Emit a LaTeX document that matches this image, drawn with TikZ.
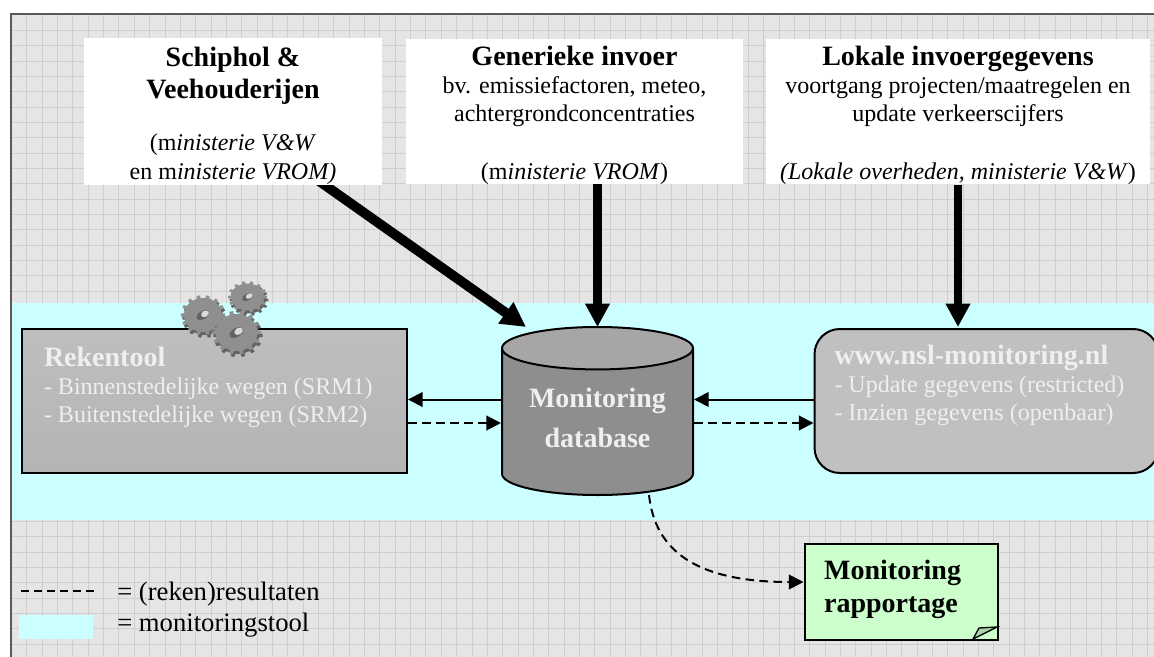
\documentclass[tikz,border=0pt]{standalone}
\usepackage{fontspec}
\setmainfont{Liberation Serif}
\usetikzlibrary{arrows.meta,shapes.geometric,calc}
\pgfdeclarelayer{gridl}
\pgfdeclarelayer{arrowl}
\pgfsetlayers{gridl,arrowl,main}
\definecolor{bgg}{HTML}{E5E5E5}
\definecolor{gridg}{HTML}{CECECE}
\definecolor{cyanb}{HTML}{CCFFFF}
\definecolor{boxt}{HTML}{BEBEBE}
\definecolor{boxb}{HTML}{B4B4B4}
\definecolor{roundg}{HTML}{C0C0C0}
\definecolor{dbside}{HTML}{8E8E8E}
\definecolor{dbtop}{HTML}{A6A6A6}
\definecolor{palet}{HTML}{EFEFEF}
\definecolor{noteg}{HTML}{CCFFCC}
\definecolor{foldg}{HTML}{A9D6A9}
\definecolor{gearl}{HTML}{8F8F8F}
\definecolor{geard}{HTML}{636363}
\newcommand{\hd}[1]{\textbf{\fontsize{21}{24}\selectfont #1}}
\newcommand{\greytext}[3]{\parbox[c][108pt][t]{#1}{\raggedright\rule{0pt}{#2}#3}}
\tikzset{
  inbox/.style={fill=white,minimum height=108.75pt,inner sep=0pt,align=center,font=\fontsize{18}{21}\selectfont},
  bigarrow/.style={-{Triangle[length=17.5pt,width=17.5pt]},line width=6.2pt,black},
  diagarrow/.style={-{Triangle[length=18.5pt,width=18.5pt]},line width=7.3pt,black},
  thinarrow/.style={-{Triangle[length=11pt,width=11pt]},line width=1.5pt,black},
  dashy/.style={thinarrow,dash pattern=on 6.5pt off 4pt},
  greybox/.style={draw=black,line width=1.5pt,inner sep=0pt,text=palet,font=\fontsize{18}{21}\selectfont},
  legend/.style={anchor=base west,inner sep=0pt,font=\fontsize{20}{24}\selectfont},
}
\newcommand{\tooth}[4]{% cx cy rx ry
  \foreach \a in {0,25.714,...,335}{
    -- ({#1+#3*cos(\a-6)},{#2+#4*sin(\a-6)})
    -- ({#1+1.17*#3*cos(\a-4)},{#2+1.17*#4*sin(\a-4)})
    -- ({#1+1.17*#3*cos(\a+4)},{#2+1.17*#4*sin(\a+4)})
    -- ({#1+#3*cos(\a+6)},{#2+#4*sin(\a+6)})
    -- ({#1+#3*cos(\a+19.7)},{#2+#4*sin(\a+19.7)})
  }
}
\newcommand{\gearpic}[4]{% cx cy rx ry
  \fill[geard] ({#1+1.5+#3*cos(-6)},{#2+3+#4*sin(-6)}) \tooth{#1+1.5}{#2+3}{#3}{#4} -- cycle;
  \fill[gearl] ({#1+#3*cos(-6)},{#2+#4*sin(-6)}) \tooth{#1}{#2}{#3}{#4} -- cycle;
  \fill[geard,rotate around={30:(#1,#2)}] (#1,#2) ellipse ({0.36*#3} and {0.24*#4});
  \fill[white!70!gray,rotate around={30:(#1,#2)}] ({#1+0.12*#3},#2) ellipse ({0.22*#3} and {0.18*#4});
}
\begin{document}
\begin{tikzpicture}[x=0.75pt,y=-0.75pt]
\useasboundingbox (0,0) rectangle (1154,657);
\begin{pgfonlayer}{gridl}
\fill[white] (0,0) rectangle (1154,657);
\fill[bgg] (11,14) rectangle (1154,657);
\foreach \i in {0,...,73}{\draw[gridg,line width=0.5pt] ({26.7+15.35*\i},14) -- ({26.7+15.35*\i},657);}
\foreach \i in {0,...,40}{\draw[gridg,line width=0.5pt] (11,{30.15+15.35*\i}) -- (1154,{30.15+15.35*\i});}
\fill[cyanb] (11,303) rectangle (1154,520);
\draw[black!65,line width=1.5pt] (11,657) -- (11,14) -- (1154,14);
\end{pgfonlayer}
% input boxes
\node[inbox,minimum width=223.5pt] (schiphol) at (233,111.5) {\rule{0pt}{21.5pt}\hd{Schiphol \&}\\[3pt]\hd{Veehouderijen}\\[18pt](m\emph{inisterie V\&W}\\[1pt]en m\emph{inisterie VROM)}};
\node[inbox,minimum width=252.75pt] (generiek) at (574.5,111.5) {\rule{0pt}{20.5pt}\hd{Generieke invoer}\\bv. emissiefactoren, meteo,\\achtergrondconcentraties\\[22pt](m\emph{inisterie VROM})};
\node[inbox,minimum width=288pt] (lokaal) at (958,111.5) {\rule{0pt}{20.5pt}\hd{Lokale invoergegevens}\\voortgang projecten/maatregelen en\\update verkeerscijfers\\[22pt]\emph{(Lokale overheden, ministerie V\&W})};
% main row
\node[greybox,top color=boxt,bottom color=boxb,minimum width=288.75pt,minimum height=108pt,anchor=north west] (reken) at (21,328)
 {\greytext{255.75pt}{27.75pt}{\hd{Rekentool}\\- Binnenstedelijke wegen (SRM1)\\- Buitenstedelijke wegen (SRM2)}};
\node[cylinder,shape border rotate=90,aspect=0.31,anchor=shape center,draw=black,line width=1.5pt,cylinder uses custom fill,cylinder body fill=dbside,cylinder end fill=dbtop,minimum width=143.25pt,minimum height=126pt,inner sep=0pt,align=center,text=palet,font=\fontsize{21}{30}\selectfont\bfseries] (db) at (597.5,411) {Monitoring\\database\rule[-7pt]{0pt}{1pt}};
\node[greybox,fill=roundg,rounded corners=19pt,minimum width=258pt,minimum height=108pt,anchor=north west] (web) at (813.5,328)
 {\greytext{228pt}{26.25pt}{\hd{www.nsl-monitoring.nl}\\- Update gegevens (restricted)\\- Inzien gegevens (openbaar)}};
\gearpic{203}{315}{19}{17}
\gearpic{247.5}{297}{16.7}{13.5}
\gearpic{236.5}{332.5}{21}{18.5}
% note
\node[draw=black,line width=1.5pt,fill=noteg,minimum width=144.75pt,minimum height=72pt,inner sep=0pt,anchor=north west,align=left,text width=116pt,font=\fontsize{21}{24.75}\selectfont\bfseries] (note) at (804,543) {Monitoring\\rapportage\rule[-9pt]{0pt}{1pt}};
\fill[foldg,draw=black,line width=1pt] (973,639) -- (979,628) -- (997,627) -- cycle;
% connectors
\begin{pgfonlayer}{arrowl}
\coordinate (a1) at (319,181);
\coordinate (a2) at (526,327);
\draw[diagarrow] (a1) -- (a2);
\end{pgfonlayer}
\coordinate (boxlow) at (0,184);
\coordinate (dbtip) at (0,327);
\draw[bigarrow] (db.north |- boxlow) -- (db.north |- dbtip);
\draw[bigarrow] (lokaal.south) -- (lokaal.south |- dbtip);
\coordinate (upper) at (0,399.5);
\coordinate (lower) at (0,423);
\draw[thinarrow] (db.west |- upper) -- (reken.east |- upper);
\draw[dashy] (reken.east |- lower) -- (db.west |- lower);
\draw[thinarrow] (web.west |- upper) -- (db.east |- upper);
\draw[dashy] (db.east |- lower) -- (web.west |- lower);
\coordinate (dbout) at (649,495);
\coordinate (noteIn) at (803.5,582);
\draw[dashy] (dbout) .. controls (655,550) and (695,582) .. (noteIn);
% legend
\coordinate (lega) at (21,591);
\coordinate (legb) at (95,591);
\draw[black,line width=1.1pt,dash pattern=on 6pt off 3.75pt] (lega) -- (legb);
\fill[cyanb] (19,615) rectangle (93,639);
\node[legend] (l1) at (117,600) {= (reken)resultaten};
\node[legend] (l2) at (117,631) {= monitoringstool};
\end{tikzpicture}
\end{document}
